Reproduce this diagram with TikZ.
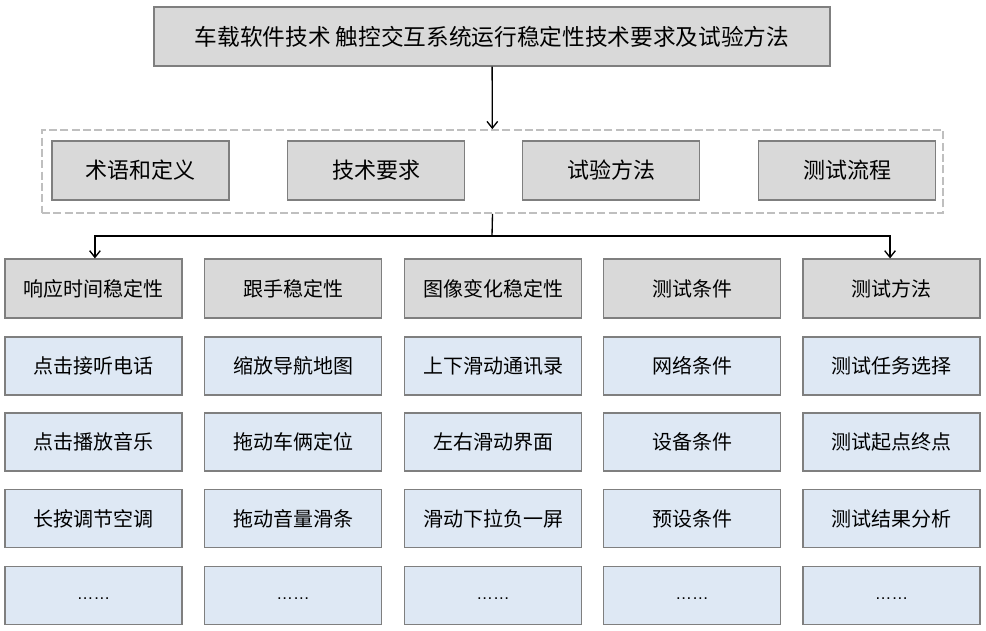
\documentclass[tikz,border=0pt]{standalone}
\usepackage{fontspec}
\setmainfont{Noto Sans CJK SC}
\newfontfamily\dotfont{Liberation Sans}
\usepackage{tikz}
\usetikzlibrary{arrows.meta}
\definecolor{stdgray}{HTML}{D9D9D9}
\definecolor{stdedge}{HTML}{7F7F7F}
\definecolor{stdblue}{HTML}{DEE8F4}
\definecolor{stddash}{HTML}{BFBFBF}
\tikzset{
  stdbox/.style={draw=stdedge, line width=0.9pt, inner sep=0pt, align=center},
  stdtitle/.style={stdbox, fill=stdgray, minimum width=507pt, minimum height=44.25pt,
    font=\fontsize{17}{19}\selectfont},
  stdpart/.style={stdbox, fill=stdgray, minimum width=132.75pt, minimum height=44.25pt,
    font=\fontsize{16.5}{18}\selectfont},
  stdhead/.style={stdbox, fill=stdgray, minimum width=132.75pt, minimum height=44.25pt,
    font=\fontsize{15}{17}\selectfont},
  stditem/.style={stdbox, fill=stdblue, minimum width=132.75pt, minimum height=43.5pt,
    font=\fontsize{15}{17}\selectfont},
  stdgroup/.style={draw=stddash, line width=1.3pt, dash pattern=on 6pt off 2.5pt,
    minimum width=675.75pt, minimum height=62.25pt, inner sep=0pt},
  stdarrow/.style={-{Straight Barb[length=5pt,width=8pt]}, line width=1pt, draw=black},
  stdline/.style={line width=1pt, draw=black}
}

\begin{document}
\begin{tikzpicture}[x=0.75pt,y=-0.75pt]
  \useasboundingbox (0,0) rectangle (986,631);
  % title and the four parts
  \node[stdtitle] (title) at (492,36.5) {车载软件技术 触控交互系统运行稳定性技术要求及试验方法};
  \node[stdgroup] (grp) at (492.5,171.5) {};
  \foreach \x/\lab [count=\i] in {140.5/术语和定义,376/技术要求,611/试验方法,847/测试流程} {
    \node[stdpart] (p\i) at (\x,170.5) {\lab};
  }
  % columns
  \foreach \x/\lab [count=\c] in {93.5/响应时间稳定性,293/跟手稳定性,493/图像变化稳定性,692/测试条件,891.5/测试方法} {
    \node[stdhead] (h\c) at (\x,288.5) {\lab};
  }
  \foreach \x/\a/\b/\d [count=\c] in {
      93.5/点击接听电话/点击播放音乐/长按调节空调,
      293/缩放导航地图/拖动车俩定位/拖动音量滑条,
      493/上下滑动通讯录/左右滑动界面/滑动下拉负一屏,
      692/网络条件/设备条件/预设条件,
      891.5/测试任务选择/测试起点终点/测试结果分析} {
    \node[stditem] (r\c-1) at (\x,366) {\a};
    \node[stditem] (r\c-2) at (\x,442) {\b};
    \node[stditem] (r\c-3) at (\x,518.5) {\d};
    \node[stditem] (r\c-4) at (\x,595.5) {\raisebox{-6pt}{\dotfont\fontsize{12.5}{14}\selectfont ……}};
  }
  % connectors
  \coordinate (split) at (492,236);
  \draw[stdarrow] (title) -- (grp);
  \draw[stdline] (grp.south) -- (split);
  \draw[stdarrow] (split) -| ([xshift=1.1pt]h1.north);
  \draw[stdarrow] (split) -| ([xshift=-1.1pt]h5.north);
\end{tikzpicture}
\end{document}
